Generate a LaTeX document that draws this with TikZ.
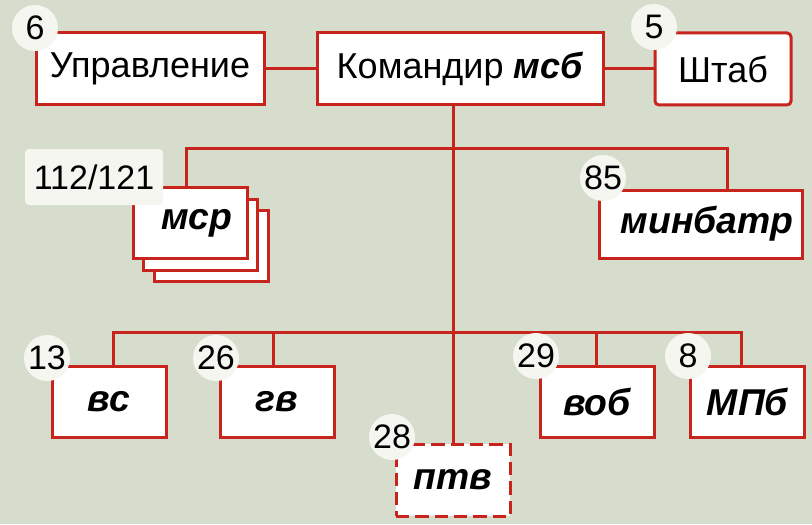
\documentclass[tikz,border=0pt]{standalone}
\usepackage{fontspec}
\setmainfont{Liberation Sans}
\definecolor{bg}{RGB}{215,221,205}
\definecolor{lred}{RGB}{200,36,30}
\definecolor{badgefill}{RGB}{246,246,241}
\begin{document}
\begin{tikzpicture}[x=0.75pt,y=-0.75pt,
  box/.style={draw=lred,line width=2.25pt,fill=white,inner sep=0pt,
    minimum width=85.5pt,minimum height=53.25pt,font=\fontsize{27}{30}\selectfont},
  bi/.style={font=\fontsize{28}{30}\selectfont\bfseries\itshape},
  link/.style={draw=lred,line width=2.25pt},
  badge/.style={circle,fill=badgefill,inner sep=0pt,minimum size=34.5pt,
    font=\fontsize{25.5}{28}\selectfont}]
\fill[bg] (0,0) rectangle (812,524);
\useasboundingbox (0,0) rectangle (812,524);
% top row
\node[box,minimum width=171pt,minimum height=54pt] (upr) at (150,69) {Управление};
\node[box,minimum width=214.5pt,minimum height=54pt] (kom) at (460,69) {Командир \textbf{\textit{мсб}}};
\node[box,minimum width=102pt,minimum height=54pt,rounded corners=3pt] (shtab) at (723,69) {Штаб};
% middle row
\node[box] (msr3) at (211.5,245.5) {};
\node[box] (msr2) at (200,235) {};
\node[box,bi] (msr) at (190,223) {\hspace{10pt}\raisebox{-4pt}{мср}};
\node[box,bi,minimum width=152.25pt,minimum height=51pt] (minb) at (701,224) {\hspace{9pt}минбатр};
% bottom row
\node[box,bi] (vs) at (109,401.5) {вс};
\node[box,bi] (gv) at (277,401.5) {гв\hspace{10pt}};
\node[box,bi,dashed,dash pattern=on 10pt off 4.5pt,minimum height=54pt] (ptv) at (453,480) {птв};
\node[box,bi] (vob) at (597,401.5) {воб\hspace{4pt}};
\node[box,bi] (mpb) at (747.5,401.5) {МПб};
% connectors
\coordinate (a1) at (186,148);
\coordinate (a2) at (727,148);
\coordinate (c1) at (113,332);
\coordinate (c2) at (741,332);
\coordinate (c3) at (273,332);
\coordinate (c4) at (596,332);
\draw[link] (upr) -- (kom);
\draw[link] (kom) -- (shtab);
\draw[link] (kom.south -| ptv.north) -- (ptv.north);
\draw[link] (msr.north -| a1) |- (a2) -- (a2 |- minb.north);
\draw[link] (vs.north -| c1) |- (c2) -- (c2 |- mpb.north);
\draw[link] (c3) -- (c3 |- gv.north);
\draw[link] (c4) -- (c4 |- vob.north);
% badges
\node[badge] (b6) at (35,28) {6};
\node[badge] (b5) at (654,27) {5};
\node[fill=badgefill,rounded corners=3pt,minimum width=103.5pt,minimum height=42pt,inner sep=0pt,
  font=\fontsize{25.5}{28}\selectfont] (b112) at (94,177) {112/121};
\node[badge] (b85) at (603,178) {85};
\node[badge] (b13) at (47,358) {13};
\node[badge] (b26) at (216,358) {26};
\node[badge] (b28) at (392,437) {28};
\node[badge] (b29) at (536,356) {29};
\node[badge] (b8) at (688,356) {8};
\end{tikzpicture}
\end{document}
